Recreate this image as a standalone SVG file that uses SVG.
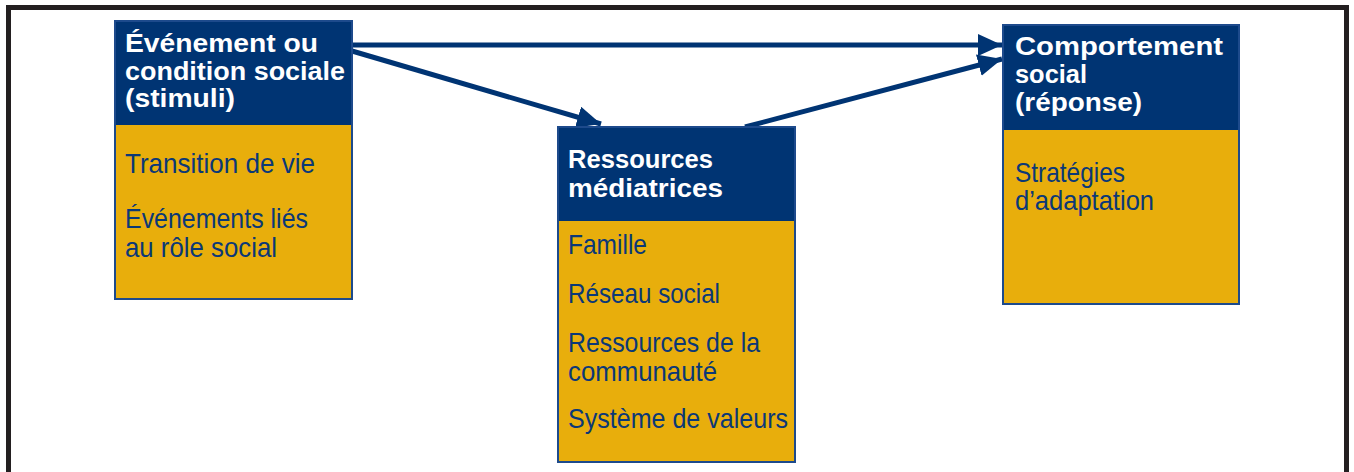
<svg xmlns="http://www.w3.org/2000/svg" width="1354" height="472" viewBox="0 0 1354 472">
<style>
.frame{fill:#fff;stroke:#231f20;stroke-width:5}
.hd{fill:#003473}
.bd{fill:#e8ae0c}
.bx{fill:none;stroke:#1d4a8c;stroke-width:2}
.ht{font-family:"Liberation Sans",Arial,sans-serif;font-weight:bold;font-size:25px;fill:#fff}
.bt{font-family:"Liberation Sans",Arial,sans-serif;font-size:28px;fill:#0b3877}
.cn{fill:none;stroke:#003473;stroke-width:5}
</style>
<defs>
<marker id="ah" markerUnits="userSpaceOnUse" markerWidth="26" markerHeight="22" refX="24" refY="11" orient="auto">
<polygon points="0,0 24,11 0,22" fill="#003473"/>
</marker>
</defs>
<rect class="frame" x="8.5" y="7.5" width="1338" height="500"/>
<g id="connectors">
<line class="cn" x1="352" y1="45" x2="1002" y2="45" marker-end="url(#ah)"/>
<line class="cn" x1="352" y1="51" x2="601" y2="124" marker-end="url(#ah)"/>
<line class="cn" x1="745" y1="127" x2="1002" y2="59" marker-end="url(#ah)"/>
</g>
<g id="node-stimuli">
<rect class="hd" x="115" y="21" width="237" height="104"/>
<rect class="bd" x="115" y="125" width="237" height="174"/>
<rect class="bx" x="115" y="21" width="237" height="278"/>
<text class="ht" x="125" y="52" textLength="193" lengthAdjust="spacingAndGlyphs">Événement ou</text>
<text class="ht" x="125" y="80" textLength="220" lengthAdjust="spacingAndGlyphs">condition sociale</text>
<text class="ht" x="125" y="107" textLength="110" lengthAdjust="spacingAndGlyphs">(stimuli)</text>
<text class="bt" x="125" y="173" textLength="190" lengthAdjust="spacingAndGlyphs">Transition de vie</text>
<text class="bt" x="125" y="228" textLength="183" lengthAdjust="spacingAndGlyphs">Événements liés</text>
<text class="bt" x="125" y="257" textLength="152" lengthAdjust="spacingAndGlyphs">au rôle social</text>
</g>
<g id="node-ressources">
<rect class="hd" x="558" y="127" width="237" height="94"/>
<rect class="bd" x="558" y="221" width="237" height="241"/>
<rect class="bx" x="558" y="127" width="237" height="335"/>
<text class="ht" x="568" y="168" textLength="145" lengthAdjust="spacingAndGlyphs">Ressources</text>
<text class="ht" x="568" y="197" textLength="155" lengthAdjust="spacingAndGlyphs">médiatrices</text>
<text class="bt" x="568" y="254" textLength="79" lengthAdjust="spacingAndGlyphs">Famille</text>
<text class="bt" x="568" y="303" textLength="152" lengthAdjust="spacingAndGlyphs">Réseau social</text>
<text class="bt" x="568" y="352" textLength="192" lengthAdjust="spacingAndGlyphs">Ressources de la</text>
<text class="bt" x="568" y="381" textLength="149" lengthAdjust="spacingAndGlyphs">communauté</text>
<text class="bt" x="568" y="428" textLength="220" lengthAdjust="spacingAndGlyphs">Système de valeurs</text>
</g>
<g id="node-comportement">
<rect class="hd" x="1003" y="25" width="236" height="105"/>
<rect class="bd" x="1003" y="130" width="236" height="174"/>
<rect class="bx" x="1003" y="25" width="236" height="279"/>
<text class="ht" x="1015" y="55" textLength="208" lengthAdjust="spacingAndGlyphs">Comportement</text>
<text class="ht" x="1015" y="83" textLength="72" lengthAdjust="spacingAndGlyphs">social</text>
<text class="ht" x="1015" y="111" textLength="127" lengthAdjust="spacingAndGlyphs">(réponse)</text>
<text class="bt" x="1015" y="182" textLength="110" lengthAdjust="spacingAndGlyphs">Stratégies</text>
<text class="bt" x="1015" y="210" textLength="139" lengthAdjust="spacingAndGlyphs">d’adaptation</text>
</g>
</svg>
